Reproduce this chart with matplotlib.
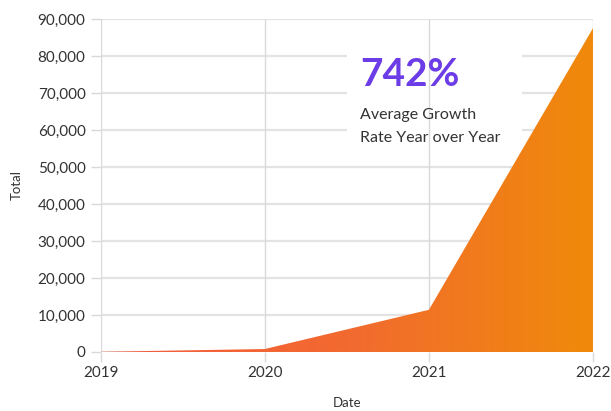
import numpy as np
import matplotlib.pyplot as plt
from matplotlib.colors import LinearSegmentedColormap
from matplotlib.patches import Rectangle

years = [2019, 2020, 2021, 2022]
totals = [50, 800, 11400, 87500]
y_ticks = [0, 10000, 20000, 30000, 40000, 50000, 60000, 70000, 80000, 90000]
y_tick_labels = [f'{v:,}' for v in y_ticks]

plt.rcParams['font.family'] = ['Lato', 'DejaVu Sans']

fig = plt.figure(figsize=(6.11, 4.11), dpi=100)
ax = fig.add_axes([0.165, 0.1436, 0.8055, 0.8104])

ax.set_xlim(2019, 2022)
ax.set_ylim(0, 90000)

# grid
for v in y_ticks:
    ax.axhline(v, color='#e3e3e3', lw=1.6, zorder=0)
# white box behind annotation
ax.add_patch(Rectangle((2020.5, 52500), 1.07, 30000, facecolor='white',
                       edgecolor='none', zorder=1))
for x in years:
    ax.axvline(x, color='#d9d9d9', lw=1, zorder=2)

# gradient area
poly = ax.fill_between(years, totals, 0, color='none', lw=0, zorder=3)
cmap = LinearSegmentedColormap.from_list('og', ['#f45a3c', '#f26a30', '#f08a0a'])
grad = np.linspace(0, 1, 256).reshape(1, -1)
img = ax.imshow(grad, cmap=cmap, aspect='auto', extent=[2019, 2022, 0, 90000],
                zorder=3, interpolation='bicubic')
path = poly.get_paths()[0]
img.set_clip_path(path, transform=ax.transData)

ax.set_xticks(years)
ax.set_xticklabels([str(y) for y in years])
ax.set_yticks(y_ticks)
ax.set_yticklabels(y_tick_labels)
ax.tick_params(axis='both', colors='#d9d9d9', labelcolor='#333333',
               labelsize=11, length=7, width=1)
ax.tick_params(axis='x', pad=3)
ax.tick_params(axis='y', pad=4)
for s in ax.spines.values():
    s.set_visible(False)

ax.set_xlabel('Date', color='#333333', fontsize=9.5, labelpad=12)
ax.set_ylabel('Total', color='#333333', fontsize=9.5, labelpad=11)

ax.text(2020.58, 75000, '742%', color='#6c3ce6', fontsize=28,
        fontweight='bold', va='center', zorder=5)
ax.text(2020.58, 61000, 'Average Growth\nRate Year over Year', color='#333333',
        fontsize=11.5, va='center', linespacing=1.8, zorder=5)

fig.savefig('out.png', dpi=100)
